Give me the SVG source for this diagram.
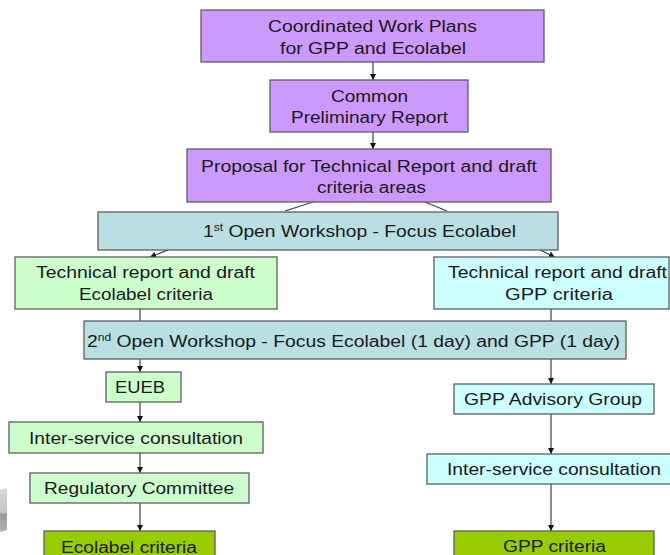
<svg xmlns="http://www.w3.org/2000/svg" width="670" height="555" viewBox="0 0 670 555">
<style>
.b{stroke:#5f5f5f;stroke-width:1.3}
.p{fill:#CC99FF}
.w{fill:#B9DFE2}
.g{fill:#CCFFCC}
.c{fill:#CCFFFF}
.d{fill:#99CC00}
text{font-family:"Liberation Sans",Arial,sans-serif;font-size:16px;fill:#1a1a1a}
.l{stroke:#404040;stroke-width:1.2;fill:none}
</style>
<defs>
<marker id="a" markerUnits="userSpaceOnUse" markerWidth="8" markerHeight="8" refX="6" refY="3" orient="auto">
<path d="M0,0 L6,3 L0,6 z" fill="#111"/>
</marker>
<linearGradient id="gr" x1="0" y1="0" x2="0" y2="1">
<stop offset="0" stop-color="#d8d8d8"/>
<stop offset="0.55" stop-color="#c4c4c4"/>
<stop offset="0.6" stop-color="#9a9a9a"/>
<stop offset="1" stop-color="#b0b0b0"/>
</linearGradient>
</defs>
<rect width="670" height="555" fill="#fff"/>
<path d="M0,490 L7,488 L7,530 L0,532 z" fill="url(#gr)"/>

<g id="connectors">
<line class="l" x1="373" y1="62" x2="373" y2="80" marker-end="url(#a)"/>
<line class="l" x1="373" y1="132" x2="373" y2="149" marker-end="url(#a)"/>
<line class="l" x1="313" y1="202" x2="285" y2="211"/>
<line class="l" x1="425" y1="202" x2="447" y2="211"/>
<line class="l" x1="168" y1="250" x2="150" y2="257" marker-end="url(#a)"/>
<line class="l" x1="540" y1="250" x2="555" y2="257" marker-end="url(#a)"/>
<line class="l" x1="140" y1="309" x2="140" y2="321"/>
<line class="l" x1="551" y1="309" x2="551" y2="321"/>
<line class="l" x1="140" y1="359" x2="140" y2="372" marker-end="url(#a)"/>
<line class="l" x1="140" y1="402" x2="140" y2="422" marker-end="url(#a)"/>
<line class="l" x1="140" y1="453" x2="140" y2="473" marker-end="url(#a)"/>
<line class="l" x1="140" y1="503" x2="140" y2="531" marker-end="url(#a)"/>
<line class="l" x1="551" y1="359" x2="551" y2="384" marker-end="url(#a)"/>
<line class="l" x1="551" y1="414" x2="551" y2="454" marker-end="url(#a)"/>
<line class="l" x1="551" y1="484" x2="551" y2="531" marker-end="url(#a)"/>
</g>

<g id="coordinated">
<rect class="b p" x="201" y="10" width="343" height="52"/>
<text x="268" y="32" textLength="209" lengthAdjust="spacingAndGlyphs">Coordinated Work Plans</text>
<text x="280" y="54" textLength="186" lengthAdjust="spacingAndGlyphs">for GPP and Ecolabel</text>
</g>
<g id="common">
<rect class="b p" x="270" y="80" width="198" height="52"/>
<text x="331" y="102" textLength="77" lengthAdjust="spacingAndGlyphs">Common</text>
<text x="291" y="123" textLength="157" lengthAdjust="spacingAndGlyphs">Preliminary Report</text>
</g>
<g id="proposal">
<rect class="b p" x="187" y="149" width="364" height="53"/>
<text x="201" y="172" textLength="336" lengthAdjust="spacingAndGlyphs">Proposal for Technical Report and draft</text>
<text x="317" y="193" textLength="109" lengthAdjust="spacingAndGlyphs">criteria areas</text>
</g>
<g id="workshop1">
<rect class="b w" x="98" y="212" width="460" height="38"/>
<text x="203" y="237" textLength="313" lengthAdjust="spacingAndGlyphs">1<tspan font-size="10" dy="-6">st</tspan><tspan dy="6"> Open Workshop - Focus Ecolabel</tspan></text>
</g>
<g id="tech-ecolabel">
<rect class="b g" x="15" y="257" width="262" height="52"/>
<text x="36" y="278" textLength="219" lengthAdjust="spacingAndGlyphs">Technical report and draft</text>
<text x="79" y="300" textLength="134" lengthAdjust="spacingAndGlyphs">Ecolabel criteria</text>
</g>
<g id="tech-gpp">
<rect class="b c" x="434" y="257" width="235" height="52"/>
<text x="448" y="278" textLength="219" lengthAdjust="spacingAndGlyphs">Technical report and draft</text>
<text x="505" y="300" textLength="108" lengthAdjust="spacingAndGlyphs">GPP criteria</text>
</g>
<g id="workshop2">
<rect class="b w" x="84" y="321" width="542" height="38"/>
<text x="87" y="347" textLength="533" lengthAdjust="spacingAndGlyphs">2<tspan font-size="10" dy="-6">nd</tspan><tspan dy="6"> Open Workshop - Focus Ecolabel (1 day) and GPP (1 day)</tspan></text>
</g>
<g id="eueb">
<rect class="b g" x="106" y="372" width="75" height="30"/>
<text x="115" y="393" textLength="50" lengthAdjust="spacingAndGlyphs">EUEB</text>
</g>
<g id="isc-ecolabel">
<rect class="b g" x="9" y="422" width="254" height="31"/>
<text x="29" y="444" textLength="214" lengthAdjust="spacingAndGlyphs">Inter-service consultation</text>
</g>
<g id="regulatory">
<rect class="b g" x="30" y="473" width="219" height="30"/>
<text x="44" y="494" textLength="190" lengthAdjust="spacingAndGlyphs">Regulatory Committee</text>
</g>
<g id="ecolabel-criteria">
<rect class="b d" x="44" y="531" width="171" height="30"/>
<text x="61" y="553" textLength="136" lengthAdjust="spacingAndGlyphs">Ecolabel criteria</text>
</g>
<g id="gpp-advisory">
<rect class="b c" x="454" y="384" width="200" height="30"/>
<text x="464" y="405" textLength="178" lengthAdjust="spacingAndGlyphs">GPP Advisory Group</text>
</g>
<g id="isc-gpp">
<rect class="b c" x="427" y="454" width="245" height="30"/>
<text x="447" y="475" textLength="214" lengthAdjust="spacingAndGlyphs">Inter-service consultation</text>
</g>
<g id="gpp-criteria">
<rect class="b d" x="454" y="531" width="200" height="30"/>
<text x="503" y="552" textLength="103" lengthAdjust="spacingAndGlyphs">GPP criteria</text>
</g>
</svg>
